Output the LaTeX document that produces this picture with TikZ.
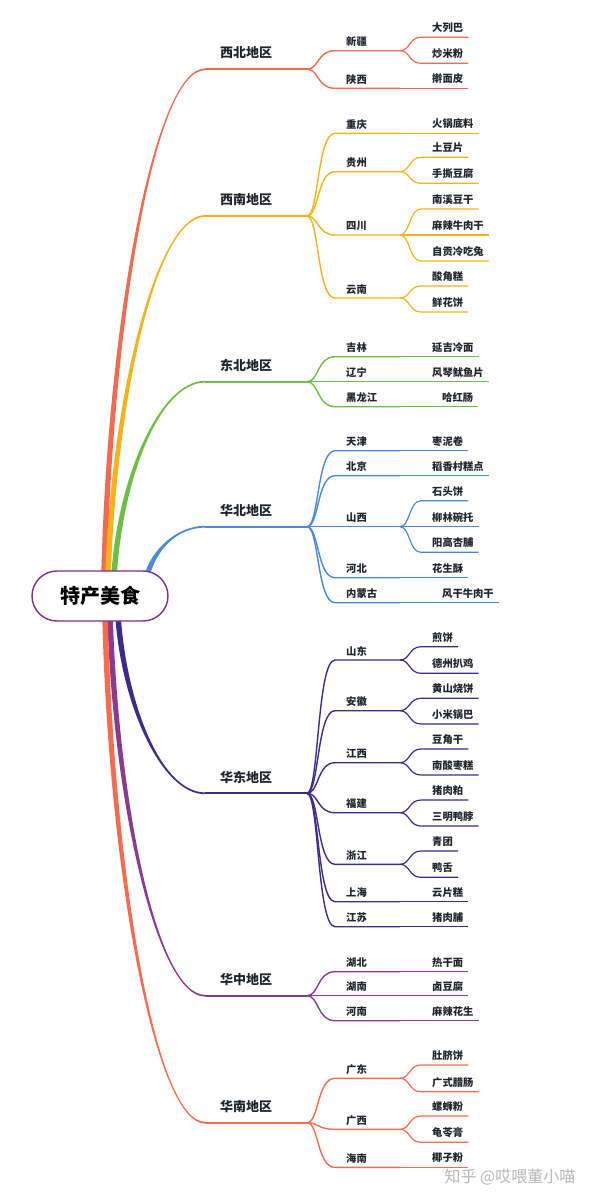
\documentclass[tikz,border=0pt]{standalone}
\usepackage{fontspec}
\setmainfont{Noto Sans CJK SC}
\usepackage{xcolor}
\usepackage{tikz}
\usetikzlibrary{calc,backgrounds}
\definecolor{xb}{HTML}{F26A4F}
\definecolor{xn}{HTML}{F6B21A}
\definecolor{db}{HTML}{6DBE45}
\definecolor{hb}{HTML}{4A89DC}
\definecolor{hd}{HTML}{3A2C8C}
\definecolor{hz}{HTML}{8B3A8F}
\definecolor{hn}{HTML}{F76B4F}
\definecolor{ink}{HTML}{1F232B}
\definecolor{rootline}{HTML}{7A2E8E}

\begin{document}
\begin{tikzpicture}[
    x=1pt,y=-1pt,
    rootbox/.style = {rectangle,rounded corners=25pt,draw=rootline,line width=1.4pt,fill=white,
                      minimum width=136pt,minimum height=50pt,text=black,
                      font=\fontsize{20}{20}\selectfont\bfseries},
    reg/.style     = {anchor=west,inner sep=0pt,text=ink,font=\fontsize{13}{13}\selectfont\bfseries},
    prov/.style    = {anchor=west,inner sep=0pt,text=ink,font=\fontsize{10.3}{10.3}\selectfont\bfseries},
    leafnd/.style  = {prov},
    regln/.style   = {line width=1.8pt},
    provln/.style  = {line width=1.4pt},
    leafln/.style  = {line width=1.2pt},
    wmark/.style   = {fill=white,inner sep=1pt,text=black!28,font=\fontsize{16}{16}\selectfont},
  ]
  \useasboundingbox (0,0) rectangle (600,1200);

  \node[rootbox] (root) at (100,596) {特产美食};

  \foreach \rid/\nm/\ry in {xb/西北地区/69.3, xn/西南地区/216, db/东北地区/381.7,
                            hb/华北地区/526.7, hd/华东地区/793.3, hz/华中地区/995.7,
                            hn/华南地区/1122.7}{
    \coordinate (rb-\rid) at (205,\ry);
    \coordinate (rj-\rid) at (307,\ry);
    \node[reg] (r-\rid) at (220,\ry-16.3) {\nm};
    \draw[regln,\rid] (rb-\rid) -- (rj-\rid);
  }

  \begin{scope}[on background layer]
    \foreach \rid/\dx/\dy/\s in {xb/4/-20/-1, xn/8/-20/-1, db/14/-20/-1, hb/47/-20/-1,
                                 hd/18/20/1, hz/10/20/1, hn/5/20/1}
      \fill[\rid] let \p1=($(root.center)+(\dx,\dy)$), \p2=(rb-\rid) in
        ({\x1-2.75pt},\y1) .. controls ({\x1+3.25pt},{(\y1+\y2)/2})
                              and ({(\x1+\x2)/2},{\y2-\s*0.9pt}) .. (\x2,{\y2-\s*0.9pt})
        -- (\x2,{\y2+\s*0.9pt}) .. controls ({(\x1+\x2)/2},{\y2+\s*0.9pt})
                              and ({\x1+8.75pt},{(\y1+\y2)/2}) .. ({\x1+2.75pt},\y1) -- cycle;
  \end{scope}

  \foreach \pid/\nm/\py/\rid in {xj/新疆/50.7/xb, sx/陕西/88.3/xb,
        cq/重庆/133.3/xn, gz/贵州/171.7/xn, sc/四川/235/xn, yn/云南/298/xn,
        jl/吉林/356.7/db, ln/辽宁/381.7/db, hlj/黑龙江/406.7/db,
        tj/天津/450.7/hb, bj/北京/475.7/hb, shx/山西/526.7/hb, heb/河北/577.7/hb, nmg/内蒙古/602.7/hb,
        sd/山东/660/hd, ah/安徽/710.7/hd, jx/江西/762.7/hd, fj/福建/812.7/hd, zj/浙江/864.3/hd,
        sh/上海/901.7/hd, js/江苏/926.7/hd,
        hub/湖北/971.7/hz, hun/湖南/995.7/hz, hen/河南/1020.7/hz,
        gd/广东/1078.3/hn, gx/广西/1129.3/hn, hai/海南/1167.3/hn}{
    \coordinate (pe-\pid) at (335,\py);
    \coordinate (pj-\pid) at (400,\py);
    \node[prov] (p-\pid) at (346,\py-8.7) {\nm};
    \draw[provln,\rid] (rj-\rid) .. controls +(12,0) and +(-18,0) .. (pe-\pid) -- (pj-\pid);
  }

  \foreach \nm/\ly/\pid/\rid/\lx [count=\k] in {
        大列巴/37.3/xj/xb/432, 炒米粉/63.3/xj/xb/432, 擀面皮/88.3/sx/xb/432,
        火锅底料/133.3/cq/xn/432, 土豆片/157.3/gz/xn/432, 手撕豆腐/183.3/gz/xn/432,
        南溪豆干/209/sc/xn/432, 麻辣牛肉干/235/sc/xn/432, 自贡冷吃兔/261/sc/xn/432,
        酸角糕/286/yn/xn/432, 鲜花饼/312/yn/xn/432,
        延吉冷面/356.7/jl/db/432, 风琴鱿鱼片/381.7/ln/db/432, 哈红肠/406.7/hlj/db/442,
        枣泥卷/450.7/tj/hb/432, 稻香村糕点/475.7/bj/hb/432, 石头饼/500.7/shx/hb/432,
        柳林碗托/526.7/shx/hb/432, 阳高杏脯/552.3/shx/hb/432, 花生酥/577.7/heb/hb/432,
        风干牛肉干/602.7/nmg/hb/442,
        煎饼/646.7/sd/hd/432, 德州扒鸡/673.3/sd/hd/432, 黄山烧饼/698.3/ah/hd/432,
        小米锅巴/724/ah/hd/432, 豆角干/749/jx/hd/432, 南酸枣糕/775/jx/hd/432,
        猪肉粕/800/fj/hd/432, 三明鸭脖/826/fj/hd/432, 青团/851/zj/hd/432, 鸭舌/877.3/zj/hd/432,
        云片糕/901.7/sh/hd/432, 猪肉脯/926.7/js/hd/432,
        热干面/971.7/hub/hz/432, 卤豆腐/995.7/hun/hz/432, 麻辣花生/1020.7/hen/hz/432,
        肚脐饼/1065/gd/hn/432, 广式腊肠/1091.7/gd/hn/432, 螺蛳粉/1116/gx/hn/432,
        龟苓膏/1142.3/gx/hn/432, 椰子粉/1167.3/hai/hn/432}{
    \node[leafnd] (l\k) at (\lx,\ly-9.3) {\nm};
    \coordinate (le\k) at (421,\ly);
    \draw[leafln,\rid] (pj-\pid) .. controls +(10,0) and +(-12,0) .. (le\k) -- ($(l\k.east)+(5,9.3)$);
  }

  \node[wmark] (wm) at (510,1177) {知乎 @哎喂董小喵};

\end{tikzpicture}
\end{document}
